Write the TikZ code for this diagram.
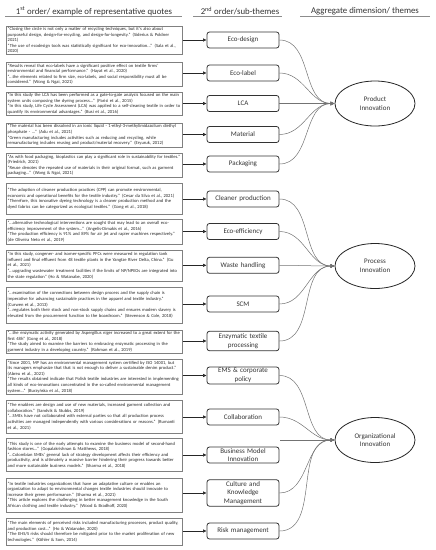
\documentclass[tikz,border=0pt]{standalone}
\usepackage{fontspec}
\setmainfont{Carlito}
\usetikzlibrary{arrows.meta,shapes.geometric}
\hyphenpenalty=10000

\begin{document}
\begin{tikzpicture}[x=1pt,y=1pt,yscale=-1,
  quote/.style={draw=black!50, line width=0.5pt, anchor=north west, text width=172.5pt, inner xsep=2pt, inner ysep=0.8pt, align=left, font=\fontsize{4.55}{5.6}\selectfont, text=black!85},
  theme/.style={draw=black!80, line width=0.8pt, rounded corners=2.5pt, minimum width=72pt, minimum height=16pt, text width=70pt, align=center, inner sep=0.5pt, font=\fontsize{7}{8.7}\selectfont, text=black!80},
  dimension/.style={ellipse, draw=black!85, line width=0.8pt, minimum width=80pt, minimum height=45pt, inner sep=0pt, align=center, font=\fontsize{7}{8.7}\selectfont, text=black!80},
  head/.style={font=\fontsize{8.8}{10.5}\selectfont, text=black!80, inner sep=0pt},
  headrule/.style={black!45, line width=0.6pt},
  feed/.style={-{Latex[length=3.5pt,width=3.5pt]}, line width=0.6pt, black!85},
  link/.style={-{Latex[length=4pt,width=4pt]}, line width=0.5pt, black!55}
]
\useasboundingbox (0,0) rectangle (436,550);

% headings
\node[head] (hquote) at (94,11) {1\textsuperscript{st} order/ example of representative quotes};
\node[head] (htheme) at (240,11) {2\textsuperscript{nd} order/sub-themes};
\node[head] (hdim) at (365,11) {Aggregate dimension/ themes};
\draw[headrule] (5,16.5) -- (182,16.5);
\draw[headrule] (193,16.5) -- (282,16.5);
\draw[headrule] (300,16.5) -- (430,16.5);

% quotes
\node[quote, minimum height=28.3pt] (q1) at (5.5,26) {“Closing the circle is not only a matter of recycling techniques, but it's also about purposeful design, design-for-recycling, and design-for-longevity.” (Siderius \& Poldner 2021)\\“The use of ecodesign tools was statistically significant for eco-innovation...” (Sala et al., 2020)};
\node[quote, minimum height=23.4pt] (q2) at (5.5,62.3) {“Results reveal that eco-labels have a significant positive effect on textile firms' environmental and financial performance.” (Hayat et al., 2020)\\“...the elements related to firm size, eco-labels, and social responsibility must all be considered.” (Wong \& Ngai, 2021)};
\node[quote, minimum height=20pt] (q3) at (5.5,92.3) {“In this study the LCA has been performed as a gate-to-gate analysis focused on the main system units composing the dyeing process...” (Parisi et al., 2015)\\“In this study, Life Cycle Assessment (LCA) was applied to a self-cleaning textile in order to quantify its environmental advantages.” (Busi et al., 2016)};
\node[quote, minimum height=23.5pt] (q4) at (5.5,123) {“The material has been dissolved in an ionic liquid - 1-ethyl-3-methylimidazolium diethyl phosphate - ...” (Adu et al., 2021)\\“Green manufacturing includes activities such as reducing and recycling, while remanufacturing includes reusing and product/material recovery.” (Eryuruk, 2012)};
\node[quote, minimum height=23.4pt] (q5) at (5.5,153.3) {“As with food packaging, bioplastics can play a significant role in sustainability for textiles.” (Friedrich, 2021)\\“Reuse denotes the repeated use of materials in their original format, such as garment packaging...” (Wong \& Ngai, 2021)};
\node[quote, minimum height=30.7pt] (q6) at (5.5,183.3) {“The adoption of cleaner production practices (CPP) can promote environmental, economic and operational benefits for the textile industry.” (Cesar da Silva et al., 2021)\\“Therefore, this innovative dyeing technology is a cleaner production method and the dyed fabrics can be categorized as ecological textiles.” (Gong et al., 2018)};
\node[quote, minimum height=25pt] (q7) at (5.5,219) {“...alternative technological interventions are sought that may lead to an overall eco-efficiency improvement of the system...” (Angelis-Dimakis et al., 2016)\\“The production efficiency is 91\% and 89\% for air jet and rapier machines respectively.” (de Oliveira Neto et al., 2019)};
\node[quote, minimum height=30.7pt] (q8) at (5.5,250) {“In this study, congener- and isomer-specific PFCs were measured in regulation tank influent and final effluent from 48 textile plants in the Yangtze River Delta, China.” (Gu et al., 2021)\\“...upgrading wastewater treatment facilities if the limits of NP/NPEOs are integrated into the state regulation” (Ho \& Watanabe, 2020)};
\node[quote, minimum height=35.8pt] (q9) at (5.5,286.7) {“...examination of the connections between design process and the supply chain is imperative for advancing sustainable practices in the apparel and textile industry.” (Curwen et al., 2013)\\“...regulates both their stock and non-stock supply chains and ensures modern slavery is elevated from the procurement function to the boardroom.” (Stevenson \& Cole, 2018)};
\node[quote, minimum height=23.3pt] (q10) at (5.5,330) {“...the enzymatic activity generated by Aspergillus niger increased to a great extent for the first 48h” (Gong et al., 2018)\\“The study aimed to examine the barriers to embracing enzymatic processing in the garment industry in a developing country.” (Rahman et al., 2019)};
\node[quote, minimum height=34.7pt] (q11) at (5.5,359.3) {“Since 2001, MP has an environmental management system certified by ISO 14001, but its managers emphasize that that is not enough to deliver a sustainable denim product.” (Abreu et al., 2021)\\“The results obtained indicate that Polish textile industries are interested in implementing all kinds of eco-innovations concentrated in the so-called environmental management system...” (Burzyńska et al., 2018)};
\node[quote, minimum height=32.7pt] (q12) at (5.5,400) {“The enablers are design and use of new materials, increased garment collection and collaboration.” (Sandvik \& Stubbs, 2019)\\“...SMEs have not collaborated with external parties so that all production process activities are managed independently with various considerations or reasons.” (Rumanti et al., 2021)};
\node[quote, minimum height=32.7pt] (q13) at (5.5,438.3) {“This study is one of the early attempts to examine the business model of second-hand fashion stores...” (Gopalakrishnan \& Matthews, 2018)\\“...Colombian SMEs' general lack of strategy development affects their efficiency and productivity, and is ultimately a massive barrier hindering their progress towards better and more sustainable business models.” (Sharma et al., 2018)};
\node[quote, minimum height=34pt] (q14) at (5.5,477.7) {“In textile industries organizations that have an adaptative culture or enables an organization to adapt to environmental changes textile industries should innovate to increase their green performance.” (Sharma et al., 2021)\\“This article explores the challenging in better management knowledge in the South African clothing and textile industry.” (Wood \& Bradhoff, 2020)};
\node[quote, minimum height=27.3pt] (q15) at (5.5,517.7) {“The main elements of perceived risks included manufacturing processes, product quality, and production cost...” (Ho \& Watanabe, 2020)\\“The EHS/S risks should therefore be mitigated prior to the market proliferation of new technologies.” (Köhler \& Som, 2014)};

% sub-themes
\node[theme] (ecodesign) at (243,40) {Eco-design};
\node[theme] (ecolabel) at (243,73) {Eco-label};
\node[theme] (lca) at (243,103.5) {LCA};
\node[theme] (material) at (243,134.5) {Material};
\node[theme] (packaging) at (243,164) {Packaging};
\node[theme] (cleaner) at (243,199) {Cleaner production};
\node[theme] (ecoeff) at (243,231.5) {Eco-efficiency};
\node[theme] (waste) at (243,265.3) {Waste handling};
\node[theme] (scm) at (243,304) {SCM};
\node[theme, minimum height=19.5pt, inner ysep=0pt] (enzyme) at (243,341) {Enzymatic textile\\processing};
\node[theme, minimum height=17pt, inner ysep=0pt] (ems) at (243,375.5) {EMS \& corporate\\policy};
\node[theme] (collab) at (243,417) {Collaboration};
\node[theme, inner ysep=0pt] (bmodel) at (243,455) {Business Model\\Innovation};
\node[theme, minimum height=26.5pt, inner ysep=0pt] (culture) at (243,493) {Culture and\\Knowledge\\Management};
\node[theme] (risk) at (243,531) {Risk management};
\coordinate (bmend) at (280,440);

% aggregate dimensions
\node[dimension] (product) at (375,103.5) {Product\\Innovation};
\node[dimension] (process) at (375,266) {Process\\Innovation};
\node[dimension] (orga) at (375,440) {Organizational\\Innovation};

% quotes -> sub-themes
\foreach \q/\t in {q1/ecodesign,q2/ecolabel,q3/lca,q4/material,q5/packaging,q6/cleaner,q7/ecoeff,q8/waste,q9/scm,q10/enzyme,q11/ems,q12/collab,q13/bmodel,q14/culture,q15/risk}
  \draw[feed] (\q.east |- \t.west) -- (\t.west);

% sub-themes -> dimensions
\foreach \t in {ecodesign,ecolabel,lca,material,packaging}
  \draw[link] (\t.east) to[out=0,in=180] (product.west);
\foreach \t in {cleaner,ecoeff,waste,scm,enzyme}
  \draw[link] (\t.east) to[out=0,in=180] (process.west);
\foreach \t in {ems,collab,culture,risk}
  \draw[link] (\t.east) to[out=0,in=180] (orga.west);
\draw[link] (bmend) -- (orga.west);

\end{tikzpicture}
\end{document}
